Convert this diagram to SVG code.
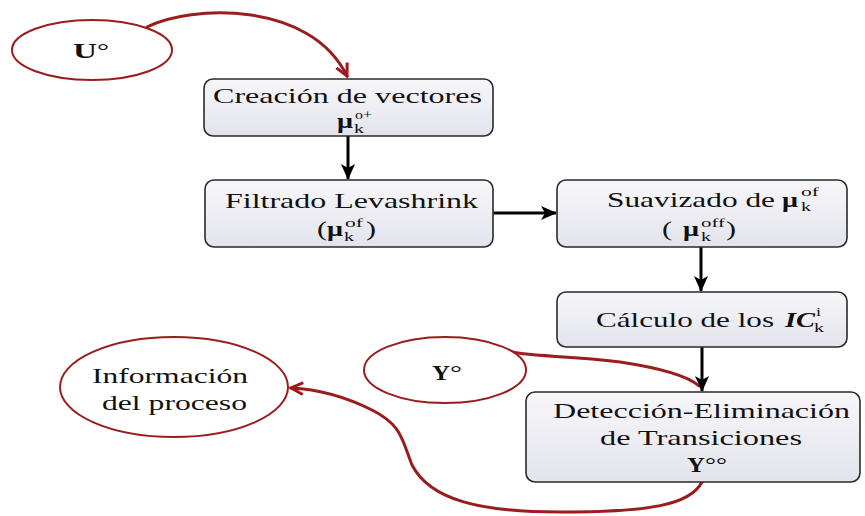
<svg xmlns="http://www.w3.org/2000/svg" width="865" height="516" viewBox="0 0 865 516">
  <style>
    .box { fill: url(#boxFill); stroke: #2a2a2a; stroke-width: 1.6; }
    .oval { fill: #ffffff; stroke: #9b1c1c; stroke-width: 2; }
    .t { font-family: "Liberation Serif", "Times New Roman", serif; font-size: 22px; fill: #111; }
    .b { font-weight: bold; }
    .bi { font-weight: bold; font-style: italic; }
    .s { font-family: "Liberation Serif", "Times New Roman", serif; font-size: 13px; fill: #111; }
    .flow { fill: none; stroke: #000; stroke-width: 3; }
    .link { fill: none; stroke: #9b1c1c; stroke-width: 3; stroke-linecap: round; }
  </style>
  <defs>
    <linearGradient id="boxFill" x1="0" y1="0" x2="0" y2="1">
      <stop offset="0" stop-color="#f7f7fa"/>
      <stop offset="1" stop-color="#e3e3ec"/>
    </linearGradient>
    <marker id="arrowBlack" markerUnits="userSpaceOnUse" markerWidth="16" markerHeight="14" viewBox="0 0 16 14" refX="15" refY="7" orient="auto">
      <path d="M0,0 L16,7 L0,14 L4,7 z" fill="#000"/>
    </marker>
    <marker id="arrowRed" markerUnits="userSpaceOnUse" markerWidth="16" markerHeight="16" viewBox="0 0 16 16" refX="14" refY="8" orient="auto">
      <path d="M2,2 L14,8 L2,14" fill="none" stroke="#9b1c1c" stroke-width="3" stroke-linejoin="miter"/>
    </marker>
  </defs>

  <rect width="865" height="516" fill="#ffffff"/>

  <!-- connectors -->
  <g id="connectors">
    <path class="link" d="M147,27 C190,5 310,0 347,76" marker-end="url(#arrowRed)"/>
    <path class="link" d="M502,348 C520,358 560,354 620,362 C660,368 688,376 699,386"/>
    <path class="link" d="M702,482 C690,505 650,512 560,512 C480,512 430,500 412,465 C402,440 402,425 372,410 C342,395 312,389 291,388" marker-end="url(#arrowRed)"/>
    <path class="flow" d="M348,136 L348,179" marker-end="url(#arrowBlack)"/>
    <path class="flow" d="M493,213 L556,213" marker-end="url(#arrowBlack)"/>
    <path class="flow" d="M701,247 L701,291" marker-end="url(#arrowBlack)"/>
    <path class="flow" d="M702,347 L702,391" marker-end="url(#arrowBlack)"/>
  </g>

  <!-- input U -->
  <g id="node-u">
    <ellipse class="oval" cx="92" cy="50" rx="80" ry="30"/>
    <text class="t b" x="73" y="58" textLength="24" lengthAdjust="spacingAndGlyphs">U</text>
    <text class="t" x="97" y="58" textLength="12" lengthAdjust="spacingAndGlyphs">°</text>
  </g>

  <!-- vector creation -->
  <g id="node-creacion">
    <rect class="box" x="204" y="79" width="289" height="57" rx="9"/>
    <text class="t" x="213" y="103" textLength="269" lengthAdjust="spacingAndGlyphs">Creación de vectores</text>
    <text class="t b" x="337" y="128" textLength="16" lengthAdjust="spacingAndGlyphs">μ</text>
    <text class="s" x="355" y="119" textLength="17" lengthAdjust="spacingAndGlyphs">o+</text>
    <text class="s" x="354" y="133" textLength="10" lengthAdjust="spacingAndGlyphs">k</text>
  </g>

  <!-- Levashrink filter -->
  <g id="node-filtrado">
    <rect class="box" x="205" y="180" width="288" height="67" rx="9"/>
    <text class="t" x="225" y="208" textLength="253" lengthAdjust="spacingAndGlyphs">Filtrado Levashrink</text>
    <text class="t" x="317" y="236" textLength="10" lengthAdjust="spacingAndGlyphs">(</text>
    <text class="t b" x="327" y="236" textLength="16" lengthAdjust="spacingAndGlyphs">μ</text>
    <text class="s" x="345" y="227" textLength="18" lengthAdjust="spacingAndGlyphs">of</text>
    <text class="s" x="344" y="241" textLength="10" lengthAdjust="spacingAndGlyphs">k</text>
    <text class="t" x="366" y="236" textLength="10" lengthAdjust="spacingAndGlyphs">)</text>
  </g>

  <!-- smoothing -->
  <g id="node-suavizado">
    <rect class="box" x="557" y="180" width="290" height="67" rx="9"/>
    <text class="t" x="607" y="207" textLength="168" lengthAdjust="spacingAndGlyphs">Suavizado de</text>
    <text class="t b" x="782" y="207" textLength="16" lengthAdjust="spacingAndGlyphs">μ</text>
    <text class="s" x="801" y="196" textLength="18" lengthAdjust="spacingAndGlyphs">of</text>
    <text class="s" x="801" y="211" textLength="10" lengthAdjust="spacingAndGlyphs">k</text>
    <text class="t" x="662" y="236" textLength="10" lengthAdjust="spacingAndGlyphs">(</text>
    <text class="t b" x="683" y="236" textLength="16" lengthAdjust="spacingAndGlyphs">μ</text>
    <text class="s" x="701" y="227" textLength="24" lengthAdjust="spacingAndGlyphs">off</text>
    <text class="s" x="701" y="241" textLength="10" lengthAdjust="spacingAndGlyphs">k</text>
    <text class="t" x="726" y="236" textLength="10" lengthAdjust="spacingAndGlyphs">)</text>
  </g>

  <!-- IC computation -->
  <g id="node-calculo">
    <rect class="box" x="557" y="292" width="290" height="55" rx="9"/>
    <text class="t" x="596" y="327" textLength="178" lengthAdjust="spacingAndGlyphs">Cálculo de los</text>
    <text class="t bi" x="785" y="327" textLength="30" lengthAdjust="spacingAndGlyphs">IC</text>
    <text class="s" x="816" y="316" textLength="5" lengthAdjust="spacingAndGlyphs">i</text>
    <text class="s" x="814" y="332" textLength="10" lengthAdjust="spacingAndGlyphs">k</text>
  </g>

  <!-- input Y -->
  <g id="node-y">
    <ellipse class="oval" cx="445" cy="370" rx="81" ry="33"/>
    <text class="t b" x="432" y="380" textLength="18" lengthAdjust="spacingAndGlyphs">Y</text>
    <text class="t" x="450" y="380" textLength="12" lengthAdjust="spacingAndGlyphs">°</text>
  </g>

  <!-- process information -->
  <g id="node-info">
    <ellipse class="oval" cx="174" cy="387" rx="114" ry="50"/>
    <text class="t" x="92" y="383" textLength="156" lengthAdjust="spacingAndGlyphs">Información</text>
    <text class="t" x="102" y="410" textLength="145" lengthAdjust="spacingAndGlyphs">del proceso</text>
  </g>

  <!-- transition detection / removal -->
  <g id="node-deteccion">
    <rect class="box" x="526" y="392" width="334" height="90" rx="9"/>
    <text class="t" x="553" y="418" textLength="297" lengthAdjust="spacingAndGlyphs">Detección-Eliminación</text>
    <text class="t" x="600" y="445" textLength="202" lengthAdjust="spacingAndGlyphs">de Transiciones</text>
    <text class="t b" x="687" y="472" textLength="18" lengthAdjust="spacingAndGlyphs">Y</text>
    <text class="t" x="705" y="472" textLength="22" lengthAdjust="spacingAndGlyphs">°°</text>
  </g>
</svg>
